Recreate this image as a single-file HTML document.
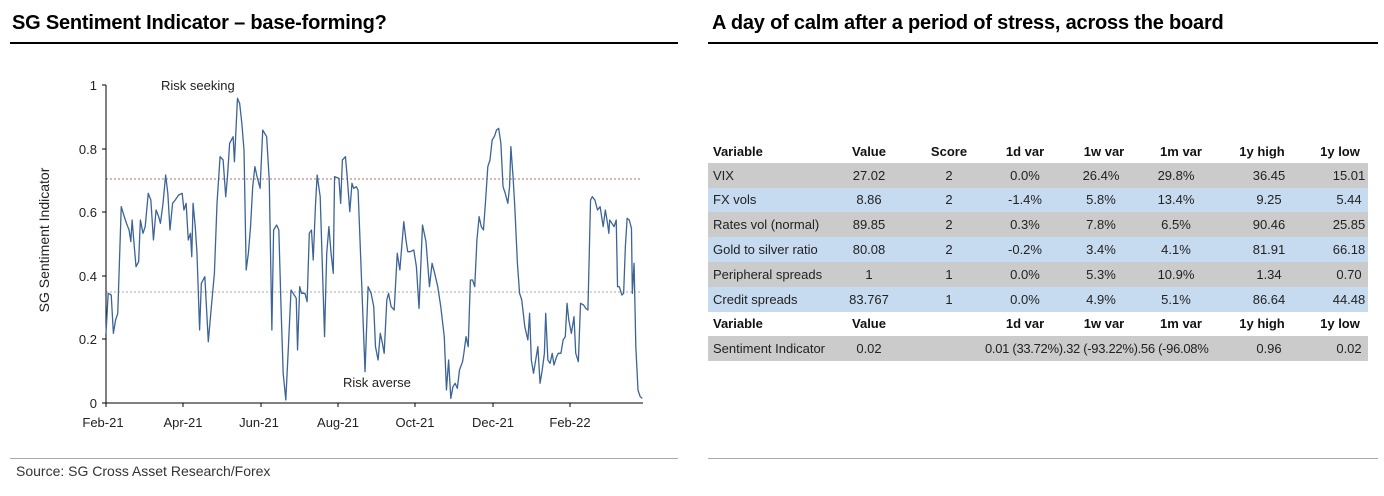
<!DOCTYPE html>
<html><head><meta charset="utf-8"><style>
body{margin:0;width:1384px;height:496px;background:#fff;font-family:"Liberation Sans",Arial,sans-serif;position:relative;overflow:hidden}
.t{position:absolute;font-weight:bold;font-size:20px;color:#000;top:12px;letter-spacing:-0.2px}
.hl{position:absolute;height:2px;background:#000;top:42px}
.gl{position:absolute;height:1px;background:#aaa;top:458px}
.row{position:absolute;left:708px;width:660px;height:25px}
.c{position:absolute;font-size:13px;color:#222;transform:translateX(-50%);white-space:nowrap}
.l{position:absolute;font-size:13px;color:#222;white-space:nowrap}
.b{font-weight:bold;color:#111}
</style></head><body>
<div class="t" style="left:12px">SG Sentiment Indicator – base-forming?</div>
<div class="hl" style="left:10px;width:668px"></div>
<div class="t" style="left:712px">A day of calm after a period of stress, across the board</div>
<div class="hl" style="left:708px;width:670px"></div>
<div class="gl" style="left:10px;width:668px"></div>
<div class="gl" style="left:708px;width:670px"></div>
<div style="position:absolute;left:16px;top:463px;font-size:14px;color:#333">Source: SG Cross Asset Research/Forex</div>

<svg width="680" height="450" style="position:absolute;left:0;top:0" font-family="Liberation Sans,Arial,sans-serif">
<line x1="106" y1="179" x2="640" y2="179" stroke="#b07060" stroke-dasharray="2,2" stroke-width="1"/>
<line x1="106" y1="292" x2="640" y2="292" stroke="#aaa" stroke-dasharray="2,2" stroke-width="1"/>
<g stroke="#000" stroke-width="1">
<line x1="106" y1="85" x2="106" y2="403"/>
<line x1="106" y1="403" x2="643" y2="403"/>
<line x1="102" y1="85" x2="106" y2="85"/><line x1="102" y1="149" x2="106" y2="149"/><line x1="102" y1="212" x2="106" y2="212"/><line x1="102" y1="276" x2="106" y2="276"/><line x1="102" y1="339" x2="106" y2="339"/><line x1="102" y1="403" x2="106" y2="403"/>
<line x1="106" y1="403" x2="106" y2="407"/><line x1="183" y1="403" x2="183" y2="407"/><line x1="261" y1="403" x2="261" y2="407"/><line x1="338" y1="403" x2="338" y2="407"/><line x1="415" y1="403" x2="415" y2="407"/><line x1="493" y1="403" x2="493" y2="407"/><line x1="570" y1="403" x2="570" y2="407"/>
</g>
<g font-size="13" fill="#222" text-anchor="end">
<text x="97" y="90">1</text><text x="97" y="154">0.8</text><text x="97" y="217">0.6</text><text x="97" y="281">0.4</text><text x="97" y="344">0.2</text><text x="97" y="408">0</text>
</g>
<g font-size="13" fill="#222" text-anchor="middle">
<text x="103" y="427">Feb-21</text><text x="183" y="427">Apr-21</text><text x="259" y="427">Jun-21</text><text x="338" y="427">Aug-21</text><text x="415" y="427">Oct-21</text><text x="493" y="427">Dec-21</text><text x="570" y="427">Feb-22</text>
</g>
<text x="49" y="240" font-size="14" fill="#222" text-anchor="middle" transform="rotate(-90 49 240)">SG Sentiment Indicator</text>
<text x="161" y="90" font-size="13" fill="#222">Risk seeking</text>
<text x="343" y="387" font-size="13" fill="#222">Risk averse</text>
<g transform="translate(106 60) scale(0.43535 0.33333) translate(-243 0)">
<polyline fill="none" stroke="#3c6496" stroke-width="1.3" vector-effect="non-scaling-stroke" stroke-linejoin="round" points="243,820 248,700 255,705 260,820 265,780 270,760 278,440 285,470 290,490 296,510 300,545 303,480 308,560 312,620 318,605 322,480 328,520 333,500 340,400 346,420 352,540 358,450 364,470 368,490 374,430 380,345 385,400 390,510 396,430 402,420 410,405 418,400 422,450 427,430 432,540 437,520 440,590 443,430 448,500 452,580 458,810 462,670 470,650 478,845 485,740 492,640 498,430 505,290 512,300 518,410 522,350 527,250 535,230 538,305 545,115 550,130 555,190 560,270 565,630 570,580 575,500 580,380 585,320 590,350 597,385 603,210 612,230 618,360 624,810 628,510 635,495 640,510 645,740 650,940 656,1020 662,860 668,690 673,700 680,715 683,870 688,680 692,700 700,700 705,725 710,520 715,510 719,600 724,440 728,345 735,410 740,620 745,830 750,580 755,500 760,580 765,640 768,350 778,355 782,430 786,300 793,290 797,350 803,455 808,370 812,385 818,380 822,390 830,660 838,935 845,680 852,700 858,740 862,860 868,900 873,820 878,850 882,880 888,720 892,700 898,740 905,750 912,580 918,630 922,565 927,485 932,540 936,575 942,575 950,570 956,620 962,745 970,495 978,545 986,680 992,610 998,640 1005,680 1012,740 1020,830 1025,990 1030,900 1035,1015 1040,980 1045,970 1050,985 1055,930 1062,905 1065,880 1070,830 1075,860 1080,660 1085,660 1090,680 1095,540 1100,470 1105,500 1110,510 1115,420 1120,320 1125,300 1130,240 1135,230 1140,210 1145,205 1150,250 1155,380 1160,400 1166,430 1170,380 1173,260 1178,350 1182,440 1188,610 1193,700 1198,720 1205,800 1212,840 1216,760 1220,900 1225,940 1230,900 1235,860 1240,970 1245,930 1250,880 1253,760 1258,900 1263,910 1268,880 1272,915 1278,890 1282,880 1288,880 1293,840 1298,830 1302,730 1306,780 1312,820 1318,770 1322,880 1328,905 1333,730 1340,735 1345,745 1350,750 1356,420 1360,410 1366,420 1372,450 1378,440 1385,500 1390,450 1395,490 1398,520 1400,480 1405,490 1410,500 1415,480 1418,680 1422,680 1428,705 1432,700 1436,560 1440,475 1445,480 1450,505 1452,700 1456,610 1460,860 1465,990 1470,1010 1475,1015"/>
</g>
</svg>

<div class="row" style="top:163px;background:#cbcbcb"></div>
<div class="row" style="top:188px;background:#c6daf0"></div>
<div class="row" style="top:212px;background:#cbcbcb"></div>
<div class="row" style="top:237px;background:#c6daf0"></div>
<div class="row" style="top:262px;background:#cbcbcb"></div>
<div class="row" style="top:287px;background:#c6daf0"></div>
<div class="row" style="top:336px;background:#cbcbcb"></div>

<div style="position:absolute;left:0;top:144px">
<span class="l b" style="left:713px;top:0">Variable</span><span class="c b" style="left:869px">Value</span><span class="c b" style="left:949px">Score</span><span class="c b" style="left:1025px">1d var</span><span class="c b" style="left:1104px">1w var</span><span class="c b" style="left:1181px">1m var</span><span class="c b" style="left:1262px">1y high</span><span class="c b" style="left:1340px">1y low</span>
</div>
<div style="position:absolute;left:0;top:168px">
<span class="l" style="left:713px">VIX</span><span class="c" style="left:869px">27.02</span><span class="c" style="left:949px">2</span><span class="c" style="left:1025px">0.0%</span><span class="c" style="left:1101px">26.4%</span><span class="c" style="left:1176px">29.8%</span><span class="c" style="left:1269px">36.45</span><span class="c" style="left:1349px">15.01</span>
</div>
<div style="position:absolute;left:0;top:192px">
<span class="l" style="left:713px">FX vols</span><span class="c" style="left:869px">8.86</span><span class="c" style="left:949px">2</span><span class="c" style="left:1025px">-1.4%</span><span class="c" style="left:1101px">5.8%</span><span class="c" style="left:1176px">13.4%</span><span class="c" style="left:1269px">9.25</span><span class="c" style="left:1349px">5.44</span>
</div>
<div style="position:absolute;left:0;top:217px">
<span class="l" style="left:713px">Rates vol (normal)</span><span class="c" style="left:869px">89.85</span><span class="c" style="left:949px">2</span><span class="c" style="left:1025px">0.3%</span><span class="c" style="left:1101px">7.8%</span><span class="c" style="left:1176px">6.5%</span><span class="c" style="left:1269px">90.46</span><span class="c" style="left:1349px">25.85</span>
</div>
<div style="position:absolute;left:0;top:242px">
<span class="l" style="left:713px">Gold to silver ratio</span><span class="c" style="left:869px">80.08</span><span class="c" style="left:949px">2</span><span class="c" style="left:1025px">-0.2%</span><span class="c" style="left:1101px">3.4%</span><span class="c" style="left:1176px">4.1%</span><span class="c" style="left:1269px">81.91</span><span class="c" style="left:1349px">66.18</span>
</div>
<div style="position:absolute;left:0;top:267px">
<span class="l" style="left:713px">Peripheral spreads</span><span class="c" style="left:869px">1</span><span class="c" style="left:949px">1</span><span class="c" style="left:1025px">0.0%</span><span class="c" style="left:1101px">5.3%</span><span class="c" style="left:1176px">10.9%</span><span class="c" style="left:1269px">1.34</span><span class="c" style="left:1349px">0.70</span>
</div>
<div style="position:absolute;left:0;top:292px">
<span class="l" style="left:713px">Credit spreads</span><span class="c" style="left:869px">83.767</span><span class="c" style="left:949px">1</span><span class="c" style="left:1025px">0.0%</span><span class="c" style="left:1101px">4.9%</span><span class="c" style="left:1176px">5.1%</span><span class="c" style="left:1269px">86.64</span><span class="c" style="left:1349px">44.48</span>
</div>
<div style="position:absolute;left:0;top:316px">
<span class="l b" style="left:713px">Variable</span><span class="c b" style="left:869px">Value</span><span class="c b" style="left:1025px">1d var</span><span class="c b" style="left:1104px">1w var</span><span class="c b" style="left:1181px">1m var</span><span class="c b" style="left:1262px">1y high</span><span class="c b" style="left:1340px">1y low</span>
</div>
<div style="position:absolute;left:0;top:341px">
<span class="l" style="left:713px">Sentiment Indicator</span><span class="c" style="left:869px">0.02</span><span class="l" style="left:985px;letter-spacing:-0.3px">0.01 (33.72%).32 (-93.22%).56 (-96.08%</span><span class="c" style="left:1269px">0.96</span><span class="c" style="left:1349px">0.02</span>
</div>
</body></html>
